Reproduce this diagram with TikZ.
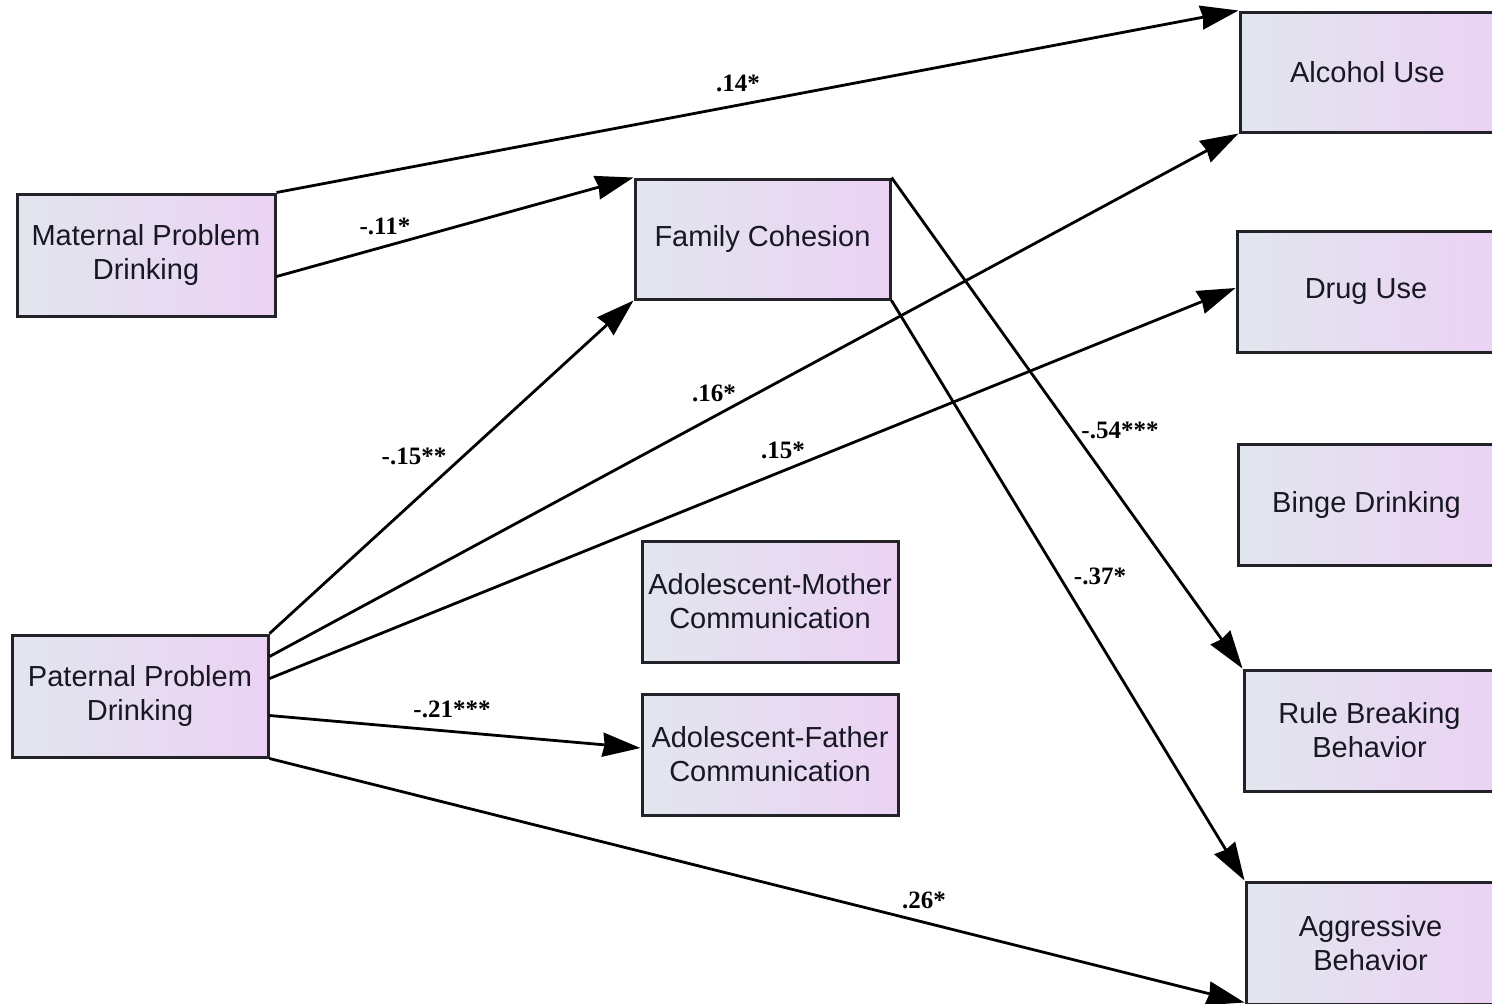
\documentclass[tikz,border=0pt]{standalone}
\usepackage{fontspec}
\setmainfont{Liberation Serif}
\newfontfamily\boxfont{Liberation Sans}
\usetikzlibrary{arrows.meta}
\definecolor{boxL}{RGB}{226,230,238}
\definecolor{boxR}{RGB}{235,210,244}
\definecolor{boxline}{RGB}{34,34,40}
\definecolor{txt}{RGB}{24,24,36}
\tikzset{
  varbox/.style={draw=boxline, line width=1.5pt, left color=boxL, right color=boxR,
    inner sep=0pt, align=center, text=txt,
    font=\boxfont\fontsize{14.5}{17}\selectfont},
  path/.style={line width=1.4pt, draw=black, -{Stealth[length=19pt,width=12pt,inset=1pt]}},
  coef/.style={font=\bfseries\fontsize{12.5}{14}\selectfont, inner sep=1pt}
}
\begin{document}
\begin{tikzpicture}[x=0.5pt,y=-0.5pt]
\useasboundingbox (0,0) rectangle (1492,1003);
\fill[white] (0,0) rectangle (1492,1003);

\node[varbox, minimum width=129pt, minimum height=61pt] (mat) at (146,255) {Maternal Problem\\Drinking};
\node[varbox, minimum width=127.5pt, minimum height=60pt] (fam) at (762.5,239) {Family Cohesion};
\node[varbox, minimum width=127.5pt, minimum height=60pt] (alc) at (1367.5,72) {Alcohol Use};
\node[varbox, minimum width=129pt, minimum height=60.5pt] (drug) at (1366,291.5) {Drug Use};
\node[varbox, minimum width=128.5pt, minimum height=60.5pt] (binge) at (1366.5,504.5) {Binge Drinking};
\node[varbox, minimum width=125.5pt, minimum height=60.5pt] (rule) at (1369.5,730.5) {Rule Breaking\\Behavior};
\node[varbox, minimum width=124.5pt, minimum height=61pt] (agg) at (1370.5,943) {Aggressive\\Behavior};
\node[varbox, minimum width=128pt, minimum height=60.5pt] (mom) at (770,601.5) {Adolescent-Mother\\Communication};
\node[varbox, minimum width=128pt, minimum height=60.5pt] (dad) at (770,754.5) {Adolescent-Father\\Communication};
\node[varbox, minimum width=128pt, minimum height=61pt] (pat) at (140,696) {Paternal Problem\\Drinking};

\draw[path] (mat.north east) -- (alc.north west);
\draw[path] ([yshift=-42pt]mat.north east) -- (fam.north west);
\draw[path] (pat.north east) -- (fam.south west);
\draw[path] ([yshift=-11.5pt]pat.north east) -- (alc.south west);
\draw[path] ([yshift=-22.5pt]pat.north east) -- ([yshift=1.75pt]drug.west);
\draw[path] ([yshift=-41pt]pat.north east) -- ([yshift=3.25pt]dad.west);
\draw[path] (pat.south east) -- ([yshift=1.5pt]agg.south west);
\draw[path] (fam.north east) -- (rule.north west);
\draw[path] (fam.south east) -- (agg.north west);

\node[coef] (l1) at (738,83) {.14*};
\node[coef] (l2) at (385,226) {-.11*};
\node[coef] (l3) at (414,456) {-.15**};
\node[coef] (l4) at (714,393) {.16*};
\node[coef] (l5) at (783,450) {.15*};
\node[coef] (l6) at (452,709) {-.21***};
\node[coef] (l7) at (924,900) {.26*};
\node[coef] (l8) at (1120,430) {-.54***};
\node[coef] (l9) at (1100,576) {-.37*};
\end{tikzpicture}
\end{document}
